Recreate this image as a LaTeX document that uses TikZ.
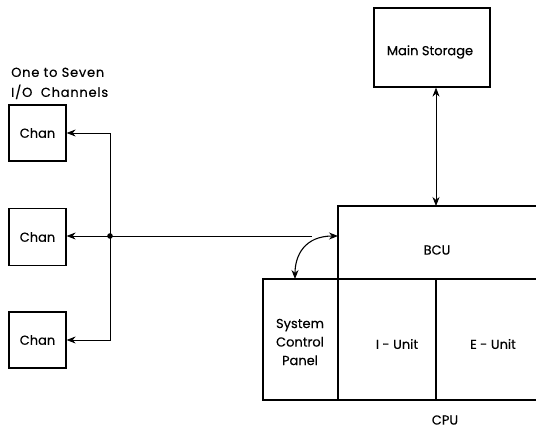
\documentclass[tikz,border=0pt]{standalone}
\usepackage{fontspec}
\setmainfont{Poppins}[FakeBold=0.4]
\usetikzlibrary{arrows.meta}
\begin{document}
\begin{tikzpicture}[x=1pt,y=-1pt,
  box/.style={draw,line width=1.3pt,inner sep=0pt,align=center},
  lbl/.style={inner sep=0pt,align=center,font=\fontsize{13}{16}\selectfont},
  conn/.style={line width=0.7pt},
  tip/.style={-{Stealth[length=9pt,width=7pt]}},
  tips/.style={{Stealth[length=9pt,width=7pt]}-{Stealth[length=9pt,width=7pt]}}]
\useasboundingbox (0,0) rectangle (536,431);
% Main storage
\node[box,minimum width=116pt,minimum height=79pt] (ms) at (432,47.5) {};
\node[lbl] (mst) at (430,52) {Main Storage};
% channels
\node[box,minimum width=57pt,minimum height=56pt,font=\fontsize{13}{16}\selectfont] (c1) at (37.5,133) {Chan};
\node[box,minimum width=57pt,minimum height=57pt,font=\fontsize{13}{16}\selectfont] (c2) at (37.5,237) {Chan};
\node[box,minimum width=57pt,minimum height=56pt,font=\fontsize{13}{16}\selectfont] (c3) at (37.5,340) {Chan};
\node[lbl,align=left,anchor=north west,font=\fontsize{13}{20}\selectfont\addfontfeature{LetterSpace=6}] (title) at (11,67.5) {One to Seven\\I/O\ \ Channels};
% CPU block
\draw[line width=1.3pt] (536,206) -- (338,206) -- (338,400);
\draw[line width=1.3pt] (536,279) -- (263,279) -- (263,400) -- (536,400);
\draw[line width=1.3pt] (436,279) -- (436,400);
\coordinate (bcutop) at (436,206);
\coordinate (bcuwest) at (338,236);
\coordinate (scptop) at (295,279);
\node[lbl] (bcu) at (437,250) {BCU};
\node[lbl,font=\fontsize{13}{18.5}\selectfont] (scp) at (300,342) {System\\Control\\Panel};
\node[lbl] (iu) at (397,344) {I - Unit};
\node[lbl] (eu) at (493,344) {E - Unit};
\node[lbl] (cpu) at (445,420) {CPU};
% connectors
\coordinate (dot) at (110,236);
\coordinate (join) at (312,236);
\draw[conn,tips] (bcutop|-ms.south) -- (bcutop);
\draw[conn,tip] (dot) |- (c1.east);
\draw[conn,tip] (dot) |- (c3.east);
\draw[conn,tip] (dot) -- (c2.east|-dot);
\draw[conn] (dot) -- (join);
\draw[line width=1.1pt,tips] (scptop) .. controls (295,255) and (305,236) .. (bcuwest);
\fill (dot) circle (2.8pt);
\end{tikzpicture}
\end{document}
